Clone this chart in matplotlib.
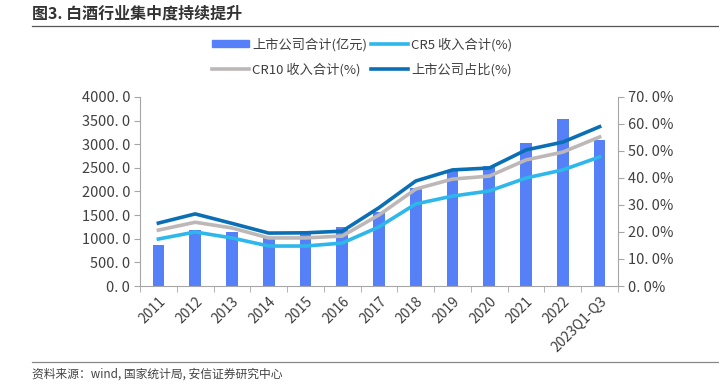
import matplotlib
matplotlib.use("Agg")
import matplotlib.pyplot as plt
import numpy as np
from matplotlib.lines import Line2D
from matplotlib.patches import Patch

plt.rcParams['font.family'] = ['Noto Sans CJK SC', 'DejaVu Sans']

categories = ['2011', '2012', '2013', '2014', '2015', '2016', '2017', '2018',
              '2019', '2020', '2021', '2022', '2023Q1-Q3']
revenue = [868, 1185, 1143, 1010, 1120, 1250, 1570, 2074, 2434, 2540, 3026, 3534, 3090]
cr5 = [17.4, 20.0, 17.8, 14.8, 14.8, 15.9, 21.9, 30.4, 33.3, 35.2, 40.0, 43.0, 47.8]
cr10 = [20.7, 23.6, 21.5, 17.8, 17.8, 18.5, 26.3, 35.9, 39.6, 40.7, 46.7, 49.6, 55.2]
share = [23.3, 26.7, 23.2, 19.6, 19.7, 20.3, 29.0, 38.9, 43.0, 43.7, 50.4, 53.3, 59.0]
left_ticks = [0, 500, 1000, 1500, 2000, 2500, 3000, 3500, 4000]
right_ticks = [0, 10, 20, 30, 40, 50, 60, 70]

bar_c = '#5580F7'
cr5_c = '#2DB7EA'
cr10_c = '#BDB7B7'
share_c = '#0A6FB5'
axis_c = '#A6A6A6'
text_c = '#404040'

W, H = 719, 392
fig = plt.figure(figsize=(W / 100, H / 100), dpi=100)
ax = fig.add_axes([140 / W, 1 - 286 / H, (618 - 140) / W, (286 - 97) / H])
ax2 = ax.twinx()

x = np.arange(len(categories))
ax.bar(x, revenue, width=0.32, color=bar_c, zorder=2)
ax2.plot(x, cr10, color=cr10_c, lw=2.6, zorder=3)
ax2.plot(x, cr5, color=cr5_c, lw=2.6, zorder=3)
ax2.plot(x, share, color=share_c, lw=2.6, zorder=4)

ax.set_xlim(-0.5, len(categories) - 0.5)
ax.set_ylim(0, 4000)
ax2.set_ylim(0, 70)
ax.set_yticks(left_ticks)
ax.set_yticklabels([f'{v}. 0' for v in left_ticks], fontsize=10.5, color=text_c)
ax2.set_yticks(right_ticks)
ax2.set_yticklabels([f'{v}. 0%' for v in right_ticks], fontsize=10.5, color=text_c)

ax.set_xticks(x)
ax.set_xticklabels(categories, rotation=45, ha='right', rotation_mode='anchor',
                   fontsize=10, color=text_c)
ax.set_xticks(np.arange(-0.5, len(categories)), minor=True)
ax.tick_params(axis='x', which='major', length=0, pad=6)
ax.tick_params(axis='x', which='minor', length=4, color=axis_c)
ax.tick_params(axis='y', length=4, color=axis_c, pad=3)
ax2.tick_params(axis='y', length=4, color=axis_c, pad=3)

ax.spines['top'].set_visible(False)
ax2.spines['top'].set_visible(False)
ax.spines['right'].set_visible(False)
ax2.spines['left'].set_visible(False)
ax2.spines['bottom'].set_visible(False)
ax.spines['left'].set_color(axis_c)
ax.spines['bottom'].set_color(axis_c)
ax2.spines['right'].set_color(axis_c)

# Legend (column-wise fill: col1 = bar, CR10; col2 = CR5, share)
handles = [Patch(color=bar_c), Line2D([], [], color=cr10_c, lw=2.6),
           Line2D([], [], color=cr5_c, lw=2.6), Line2D([], [], color=share_c, lw=2.6)]
labels = ['上市公司合计(亿元)', 'CR10 收入合计(%)', 'CR5 收入合计(%)', '上市公司占比(%)']
fig.legend(handles, labels, ncol=2, loc='center', bbox_to_anchor=(362 / W, 1 - 57 / H),
           frameon=False, fontsize=9.5, handlelength=2.8, handleheight=0.5,
           columnspacing=0.3, handletextpad=0.25, labelspacing=0.85,
           labelcolor=text_c)

# Title and rules
fig.text(32 / W, 1 - 14 / H, '图3. 白酒行业集中度持续提升', fontsize=11.5, fontweight='bold',
         color='#333333', va='center', ha='left')
fig.add_artist(Line2D([32 / W, 1], [1 - 26 / H, 1 - 26 / H], color='#555555', lw=0.9))
fig.add_artist(Line2D([32 / W, 1], [1 - 362 / H, 1 - 362 / H], color='#888888', lw=0.9))
fig.text(32 / W, 1 - 374 / H, '资料来源：wind, 国家统计局, 安信证券研究中心', fontsize=8.5,
         style='italic', color='#444444', va='center', ha='left')

fig.savefig('out.png', dpi=100)
